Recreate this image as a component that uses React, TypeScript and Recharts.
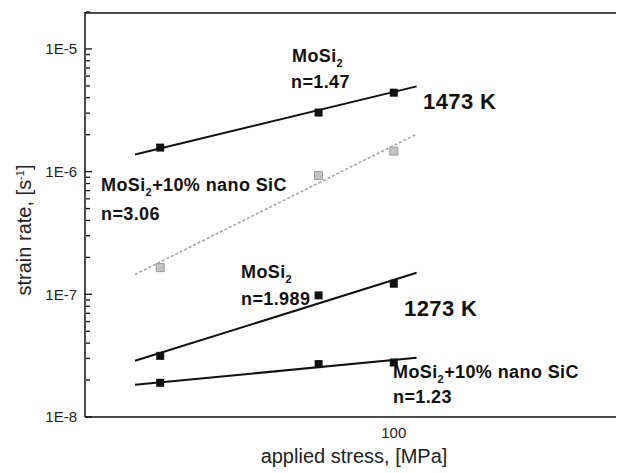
import { ComposedChart, Line, Scatter, XAxis, YAxis } from "recharts";

// measured points (stress in MPa, strain rate in 1/s)
const stress = [50, 80, 100];
const mosi2At1473 = [1.57e-6, 3.03e-6, 4.4e-6];
const sicAt1473 = [1.65e-7, 9.3e-7, 1.47e-6];
const mosi2At1273 = [3.15e-8, 9.8e-8, 1.22e-7];
const sicAt1273 = [1.9e-8, 2.7e-8, 2.78e-8];

// power-law fit lines
const fitStress = [46.4, 107];
const fitMosi2At1473 = [1.38e-6, 4.95e-6];
const fitSicAt1473 = [1.45e-7, 2.02e-6];
const fitMosi2At1273 = [2.87e-8, 1.5e-7];
const fitSicAt1273 = [1.83e-8, 3.04e-8];

// axes (the right side of the frame is cut off at the image edge)
const xDomain = [40, 198];
const yDomain = [1e-8, 2e-5];
const xLabelTicks = [100];
const xMinorTicks = [40, 50, 60, 70, 80, 90];
const xMajorTicks = [100];
const yLabelTicks = [1e-8, 1e-7, 1e-6, 1e-5];
const yMinorTicks = [-8, -7, -6, -5].flatMap((e) =>
  [2, 3, 4, 5, 6, 7, 8, 9].map((k) => k * Math.pow(10, e))
);

const FONT = "'Liberation Sans', Arial, sans-serif";
const INK = "#111";

const pts = (xs: number[], ys: number[]) => xs.map((x, i) => ({ x, y: ys[i] }));
const noLabel = () => "";

function Note({ x, y, children, size = 18 }: { x: number; y: number; children: React.ReactNode; size?: number }) {
  return (
    <text x={x} y={y} fontSize={size} fontWeight={700} fontFamily={FONT} fill={INK} letterSpacing={0.4}>
      {children}
    </text>
  );
}

// "MoSi2" with the subscript, optional trailing text
function MoSi2({ rest = "" }: { rest?: string }) {
  return (
    <>
      MoSi<tspan dy={5} fontSize={11}>2</tspan>
      <tspan dy={-5}>{rest}</tspan>
    </>
  );
}

export default function App() {
  const mirrorX = (id: string, orientation: "top" | "bottom", ticks: number[], size: number, line: boolean) => (
    <XAxis
      xAxisId={id}
      orientation={orientation}
      type="number"
      scale="log"
      domain={xDomain}
      allowDataOverflow
      ticks={ticks}
      interval={0}
      mirror
      height={1}
      tick={{ fontSize: 1 }}
      tickFormatter={noLabel}
      tickSize={size}
      tickLine={{ stroke: INK, strokeWidth: 1.3 }}
      axisLine={line ? { stroke: INK, strokeWidth: 1.5 } : false}
    />
  );
  const mirrorY = (id: string, orientation: "left" | "right", ticks: number[], size: number) => (
    <YAxis
      yAxisId={id}
      orientation={orientation}
      type="number"
      scale="log"
      domain={yDomain}
      allowDataOverflow
      ticks={ticks}
      interval={0}
      mirror
      width={1}
      tick={{ fontSize: 1 }}
      tickFormatter={noLabel}
      tickSize={size}
      tickLine={{ stroke: INK, strokeWidth: 1.3 }}
      axisLine={false}
    />
  );

  return (
    <div style={{ position: "relative", width: 616, height: 465, overflow: "hidden", background: "#fff" }}>
      <ComposedChart width={616} height={465} margin={{ top: 4, right: 0, bottom: 0, left: 0 }}>
        <XAxis
          xAxisId="b"
          dataKey="x"
          type="number"
          scale="log"
          domain={xDomain}
          allowDataOverflow
          ticks={xLabelTicks}
          interval={0}
          height={56}
          tickSize={0}
          tickMargin={10}
          tickLine={false}
          axisLine={{ stroke: INK, strokeWidth: 1.5 }}
          tick={{ fontSize: 15, fill: "#222", fontFamily: FONT }}
        />
        <YAxis
          yAxisId="l"
          dataKey="y"
          type="number"
          scale="log"
          domain={yDomain}
          allowDataOverflow
          ticks={yLabelTicks}
          interval={0}
          width={77}
          tickSize={0}
          tickMargin={8}
          tickLine={false}
          axisLine={{ stroke: INK, strokeWidth: 1.5 }}
          tick={{ fontSize: 15, fill: "#222", fontFamily: FONT }}
          tickFormatter={(v: number) => `1E${Math.round(Math.log10(v))}`}
        />
        {mirrorX("bMinor", "bottom", xMinorTicks, 4, false)}
        {mirrorX("bMajor", "bottom", xMajorTicks, 7, false)}
        {mirrorX("tMinor", "top", xMinorTicks, 5, true)}
        {mirrorX("tMajor", "top", xMajorTicks, 7, false)}
        {mirrorY("lMinor", "left", yMinorTicks, 4)}
        {mirrorY("lMajor", "left", yLabelTicks, 7)}
        {mirrorY("rMinor", "right", yMinorTicks, 2)}
        {mirrorY("rMajor", "right", yLabelTicks, 6)}

        <Line xAxisId="b" yAxisId="l" data={pts(fitStress, fitMosi2At1473)} dataKey="y" stroke={INK} strokeWidth={2} dot={false} isAnimationActive={false} />
        <Line xAxisId="b" yAxisId="l" data={pts(fitStress, fitSicAt1473)} dataKey="y" stroke="#a0a0a0" strokeWidth={1.5} strokeDasharray="3 2" dot={false} isAnimationActive={false} />
        <Line xAxisId="b" yAxisId="l" data={pts(fitStress, fitMosi2At1273)} dataKey="y" stroke={INK} strokeWidth={2} dot={false} isAnimationActive={false} />
        <Line xAxisId="b" yAxisId="l" data={pts(fitStress, fitSicAt1273)} dataKey="y" stroke={INK} strokeWidth={2} dot={false} isAnimationActive={false} />

        <Scatter xAxisId="b" yAxisId="l" data={pts(stress, mosi2At1473)} shape="square" fill={INK} isAnimationActive={false} />
        <Scatter xAxisId="b" yAxisId="l" data={pts(stress, sicAt1473)} shape="square" fill="#c4c4c4" stroke="#999" isAnimationActive={false} />
        <Scatter xAxisId="b" yAxisId="l" data={pts(stress, mosi2At1273)} shape="square" fill={INK} isAnimationActive={false} />
        <Scatter xAxisId="b" yAxisId="l" data={pts(stress, sicAt1273)} shape="square" fill={INK} isAnimationActive={false} />
      </ComposedChart>

      <svg width={616} height={465} style={{ position: "absolute", left: 0, top: 0, pointerEvents: "none" }}>
        <Note x={284} y={54}><MoSi2 /></Note>
        <Note x={283} y={80}>n=1.47</Note>
        <Note x={415} y={101} size={22}>1473 K</Note>
        <Note x={93} y={183}><MoSi2 rest="+10% nano SiC" /></Note>
        <Note x={93} y={212}>n=3.06</Note>
        <Note x={233} y={270}><MoSi2 /></Note>
        <Note x={233} y={297}>n=1.989</Note>
        <Note x={396} y={308} size={22}>1273 K</Note>
        <Note x={385} y={370}><MoSi2 rest="+10% nano SiC" /></Note>
        <Note x={385} y={395}>n=1.23</Note>

        <text x={346} y={455} textAnchor="middle" fontSize={20} fontFamily={FONT} fill="#222">
          applied stress, [MPa]
        </text>
        <text transform="translate(23,222) rotate(-90)" textAnchor="middle" fontSize={20} fontFamily={FONT} fill="#222">
          strain rate, [s<tspan dy={-7} fontSize={11}>-1</tspan><tspan dy={7}>]</tspan>
        </text>
      </svg>
    </div>
  );
}
